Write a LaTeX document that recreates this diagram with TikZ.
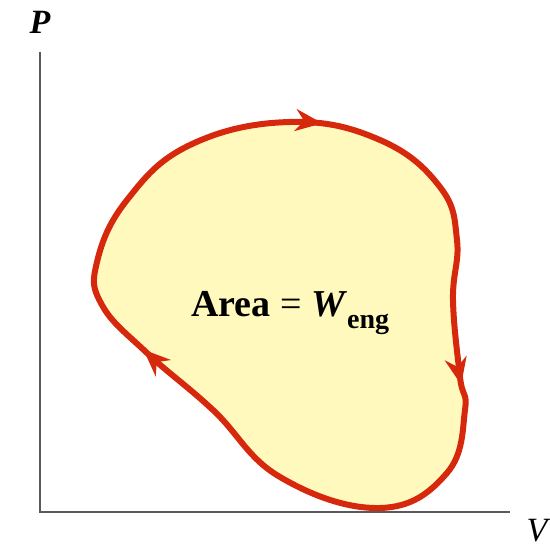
\documentclass[tikz,border=0pt]{standalone}
\usepackage{fontspec}
\setmainfont{Liberation Serif}
\usepackage{xcolor}
\usetikzlibrary{arrows.meta,decorations.markings}
\definecolor{loopred}{RGB}{214,40,12}
\definecolor{areafill}{RGB}{255,249,190}
\definecolor{axisgray}{RGB}{90,90,90}

\begin{document}
\begin{tikzpicture}[x=1pt, y=-1pt,
    axis/.style={draw=axisgray, line width=2pt},
    axislabel/.style={font=\fontsize{34}{40}\selectfont\itshape, inner sep=0pt},
    cycle/.style={draw=loopred, fill=areafill, line width=6pt, line join=round,
        postaction={decorate},
        decoration={markings,
            mark=at position 0.027 with {\arrow{Stealth[length=27pt,width=22pt]}},
            mark=at position 0.31 with {\arrow{Stealth[length=27pt,width=22pt]}},
            mark=at position 0.697 with {\arrow{Stealth[length=27pt,width=22pt]}}}}]
    \useasboundingbox (0,0) rectangle (550,548);
    \coordinate (origin) at (40,512);
    \coordinate (ptop) at (40,52);
    \coordinate (vend) at (510,512);
    \draw[axis] (ptop) -- (origin) -- (vend);
    \node[axislabel] (plabel) at (40,22) {\bfseries P};
    \node[axislabel] (vlabel) at (537,531) {V};
    \path[cycle] plot[smooth cycle, tension=0.7] coordinates {
        (190,145) (290,122) (380,140) (440,187) (457,240) (453,300)
        (460,377) (465,410) (447,473) (380,508) (280,477) (213,410)
        (147,353) (102,305) (97,262) (127,200)};
    \node[anchor=base west, inner sep=0pt, font=\fontsize{38}{42}\selectfont] (area) at (191,317)
        {\textbf{Area} = \textbf{\textit{W}}\raisebox{-0.3em}{\fontsize{28}{30}\selectfont\bfseries eng}};
\end{tikzpicture}
\end{document}
